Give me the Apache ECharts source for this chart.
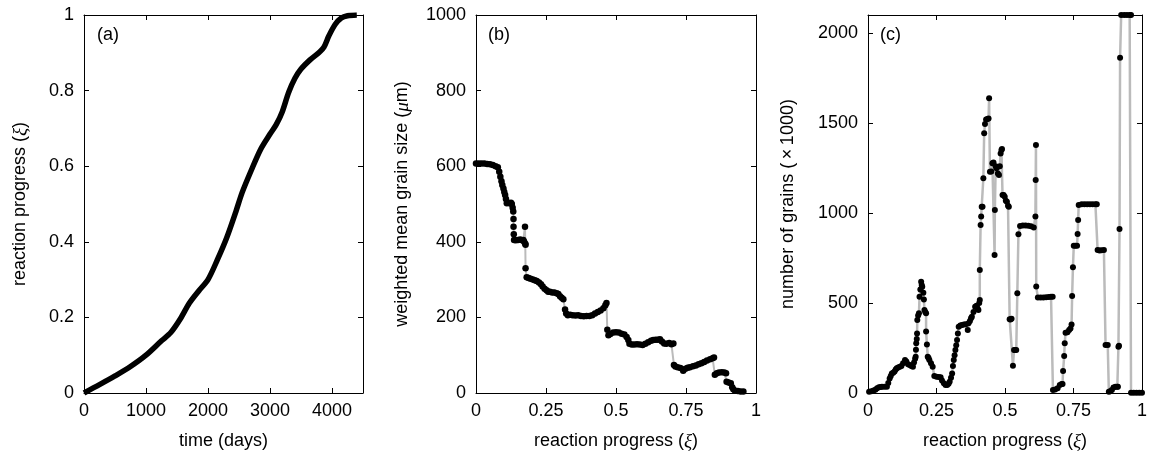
<!DOCTYPE html>
<html>
<head>
<meta charset="utf-8">
<script src="https://cdn.jsdelivr.net/npm/echarts@6/dist/echarts.min.js"></script>
<style>
  html, body { margin: 0; padding: 0; background: #fff; }
  #chart { width: 1150px; height: 458px; }
</style>
</head>
<body>
<div id="chart"></div>
<script>
// (a) reaction progress vs time
var timeDays = [0, 250, 500, 750, 1000, 1250, 1400, 1550, 1700, 1850, 2000, 2150, 2300, 2450, 2550, 2700, 2850, 3000, 3100, 3200, 3300, 3400, 3500, 3650, 3800, 3870, 3950, 4050, 4150, 4250, 4400];
var progressA = [0, 0.022, 0.045, 0.07, 0.1, 0.138, 0.16, 0.195, 0.238, 0.27, 0.3, 0.352, 0.41, 0.48, 0.53, 0.59, 0.645, 0.685, 0.71, 0.745, 0.795, 0.832, 0.857, 0.882, 0.902, 0.915, 0.945, 0.975, 0.992, 0.998, 1.0];

// (b) weighted mean grain size vs reaction progress
var xiB = [0, 0.01, 0.02, 0.03, 0.04, 0.05, 0.06, 0.07, 0.078, 0.083, 0.087, 0.091, 0.094, 0.098, 0.101, 0.104, 0.107, 0.11, 0.115, 0.12, 0.125, 0.128, 0.131, 0.133, 0.134, 0.134, 0.135, 0.136, 0.142, 0.15, 0.158, 0.165, 0.169, 0.172, 0.175, 0.176, 0.177, 0.177, 0.181, 0.188, 0.195, 0.203, 0.21, 0.217, 0.225, 0.232, 0.238, 0.245, 0.252, 0.258, 0.264, 0.272, 0.28, 0.288, 0.294, 0.3, 0.306, 0.312, 0.318, 0.322, 0.328, 0.336, 0.345, 0.355, 0.365, 0.375, 0.385, 0.395, 0.405, 0.415, 0.425, 0.435, 0.445, 0.455, 0.462, 0.466, 0.469, 0.473, 0.48, 0.49, 0.5, 0.51, 0.52, 0.53, 0.538, 0.544, 0.548, 0.556, 0.565, 0.575, 0.585, 0.595, 0.605, 0.615, 0.625, 0.633, 0.642, 0.65, 0.657, 0.664, 0.672, 0.68, 0.69, 0.698, 0.705, 0.707, 0.712, 0.72, 0.73, 0.74, 0.748, 0.756, 0.764, 0.775, 0.785, 0.795, 0.805, 0.815, 0.825, 0.836, 0.845, 0.85, 0.853, 0.86, 0.868, 0.878, 0.887, 0.893, 0.895, 0.902, 0.91, 0.915, 0.919, 0.925, 0.935, 0.945, 0.955];
var sizeB = [607, 607, 607, 607, 606, 605, 603, 600, 597, 585, 572, 560, 550, 541, 532, 524, 513, 502, 503, 502, 503, 500, 490, 480, 460, 440, 420, 405, 404, 405, 406, 404, 405, 400, 440, 395, 392, 330, 306, 304, 302, 300, 298, 296, 292, 288, 282, 276, 272, 268, 268, 266, 266, 264, 262, 256, 252, 248, 221, 210, 206, 207, 206, 205, 206, 204, 203, 204, 204, 206, 210, 214, 218, 224, 232, 238, 167, 153, 156, 160, 161, 160, 157, 155, 148, 140, 130, 128, 128, 129, 128, 127, 130, 134, 138, 140, 141, 141, 142, 136, 131, 130, 132, 129, 131, 74, 70, 68, 66, 59, 64, 67, 68, 71, 73, 76, 79, 82, 86, 89, 92, 94, 48, 52, 54, 55, 54, 52, 30, 28, 26, 15, 10, 6, 5, 4, 4];

// (c) number of grains vs reaction progress
var xiC = [0.004, 0.012, 0.02, 0.027, 0.033, 0.04, 0.046, 0.051, 0.06, 0.069, 0.074, 0.079, 0.083, 0.087, 0.092, 0.097, 0.101, 0.105, 0.11, 0.116, 0.122, 0.128, 0.135, 0.14, 0.146, 0.152, 0.158, 0.164, 0.168, 0.172, 0.174, 0.175, 0.176, 0.178, 0.179, 0.18, 0.183, 0.186, 0.188, 0.191, 0.194, 0.196, 0.198, 0.202, 0.204, 0.206, 0.209, 0.212, 0.212, 0.215, 0.218, 0.221, 0.224, 0.23, 0.236, 0.242, 0.25, 0.258, 0.265, 0.27, 0.277, 0.283, 0.289, 0.294, 0.298, 0.303, 0.307, 0.31, 0.313, 0.316, 0.319, 0.322, 0.325, 0.328, 0.331, 0.337, 0.343, 0.35, 0.357, 0.364, 0.367, 0.372, 0.376, 0.379, 0.385, 0.391, 0.396, 0.4, 0.403, 0.406, 0.408, 0.408, 0.411, 0.413, 0.415, 0.418, 0.421, 0.424, 0.427, 0.431, 0.436, 0.44, 0.442, 0.445, 0.45, 0.454, 0.458, 0.462, 0.463, 0.466, 0.469, 0.474, 0.478, 0.481, 0.484, 0.487, 0.489, 0.491, 0.495, 0.499, 0.503, 0.507, 0.511, 0.514, 0.517, 0.52, 0.524, 0.529, 0.533, 0.537, 0.541, 0.545, 0.549, 0.555, 0.565, 0.575, 0.585, 0.595, 0.605, 0.611, 0.612, 0.613, 0.614, 0.62, 0.63, 0.64, 0.65, 0.66, 0.668, 0.674, 0.675, 0.683, 0.692, 0.7, 0.707, 0.71, 0.712, 0.716, 0.718, 0.721, 0.728, 0.734, 0.739, 0.743, 0.745, 0.748, 0.751, 0.757, 0.763, 0.765, 0.767, 0.769, 0.78, 0.79, 0.8, 0.81, 0.82, 0.83, 0.835, 0.838, 0.845, 0.852, 0.861, 0.867, 0.875, 0.879, 0.884, 0.89, 0.896, 0.903, 0.91, 0.912, 0.914, 0.916, 0.918, 0.92, 0.924, 0.935, 0.945, 0.955, 0.96, 0.96, 0.97, 0.98, 0.99, 1.0];
var grainsC = [7, 10, 14, 18, 26, 32, 34, 35, 35, 35, 55, 81, 95, 109, 112, 120, 130, 137, 142, 146, 150, 165, 183, 175, 160, 156, 150, 146, 170, 190, 202, 240, 276, 300, 331, 405, 430, 443, 535, 575, 618, 600, 590, 557, 520, 461, 450, 443, 341, 270, 202, 195, 183, 165, 146, 94, 90, 89, 87, 70, 54, 45, 44, 52, 63, 85, 109, 150, 183, 210, 239, 265, 294, 330, 368, 375, 378, 380, 382, 350, 387, 400, 415, 424, 450, 479, 485, 470, 461, 500, 517, 683, 933, 980, 1035, 1035, 1193, 1443, 1494, 1520, 1522, 1525, 1637, 1229, 1230, 1276, 1280, 767, 1017, 1260, 1248, 1220, 1211, 1260, 1331, 1350, 1356, 1100, 1100, 1090, 1068, 1063, 1040, 1035, 410, 409, 412, 152, 239, 239, 239, 554, 882, 928, 930, 930, 929, 926, 920, 980, 1183, 1378, 591, 531, 531, 531, 532, 533, 535, 535, 17, 20, 26, 45, 50, 50, 122, 205, 276, 335, 338, 350, 359, 381, 539, 698, 818, 818, 818, 883, 961, 1044, 1048, 1048, 1048, 1048, 1048, 1048, 1048, 794, 792, 793, 794, 267, 267, 7, 10, 17, 30, 35, 35, 35, 257, 262, 911, 1863, 2100, 2100, 2100, 2100, 2100, 2, 2, 2, 2, 2];

function zip(xs, ys) {
  return xs.map(function (x, i) { return [x, ys[i]]; });
}

var chart = echarts.init(document.getElementById('chart'));

var FONT = 'Liberation Sans';
var FS = 18;
var rich = {
  i: { fontFamily: 'Liberation Serif', fontStyle: 'italic', fontSize: FS + 1, color: '#000' }
};

function plain(v) { return String(v); }

function xAx(grid, min, max, interval, ticks, name, mirror) {
  return {
    type: 'value', gridIndex: grid, min: min, max: max, interval: interval,
    position: mirror ? 'top' : 'bottom',
    name: mirror ? '' : name, nameLocation: 'middle', nameGap: 39,
    nameTextStyle: { fontFamily: FONT, fontSize: FS, color: '#000', rich: rich },
    axisLine: { show: true, onZero: false, lineStyle: { color: '#000', width: 1 } },
    axisTick: { show: true, inside: true, length: 5, customValues: ticks, lineStyle: { color: '#000' } },
    axisLabel: { show: !mirror, margin: 9, customValues: ticks, formatter: plain, fontFamily: FONT, fontSize: FS, color: '#000' },
    splitLine: { show: false }
  };
}

function yAx(grid, min, max, interval, ticks, name, gap, mirror) {
  return {
    type: 'value', gridIndex: grid, min: min, max: max, interval: interval,
    position: mirror ? 'right' : 'left',
    name: mirror ? '' : name, nameLocation: 'middle', nameGap: gap,
    nameTextStyle: { fontFamily: FONT, fontSize: FS, color: '#000', rich: rich },
    axisLine: { show: true, onZero: false, lineStyle: { color: '#000', width: 1 } },
    axisTick: { show: true, inside: true, length: 5, customValues: ticks, lineStyle: { color: '#000' } },
    axisLabel: { show: !mirror, margin: 10, customValues: ticks, formatter: plain, fontFamily: FONT, fontSize: FS, color: '#000' },
    splitLine: { show: false }
  };
}

var xiTicks = [0, 0.25, 0.5, 0.75, 1];
var xiName = 'reaction progress ({i|ξ})';

var option = {
  animation: false,
  backgroundColor: '#fff',
  grid: [
    { left: 84, top: 15, width: 279, height: 378 },
    { left: 476, top: 15, width: 280, height: 378 },
    { left: 868, top: 15, width: 280, height: 378 }
  ],
  xAxis: [
    xAx(0, 0, 4500, 1000, [0, 1000, 2000, 3000, 4000], 'time (days)', false),
    xAx(0, 0, 4500, 1000, [0, 1000, 2000, 3000, 4000], '', true),
    xAx(1, 0, 1, 0.25, xiTicks, xiName, false),
    xAx(1, 0, 1, 0.25, xiTicks, '', true),
    xAx(2, 0, 1, 0.25, xiTicks, xiName, false),
    xAx(2, 0, 1, 0.25, xiTicks, '', true)
  ],
  yAxis: [
    yAx(0, 0, 1, 0.2, [0, 0.2, 0.4, 0.6, 0.8, 1], 'reaction progress ({i|ξ})', 54, false),
    yAx(0, 0, 1, 0.2, [0, 0.2, 0.4, 0.6, 0.8, 1], '', 0, true),
    yAx(1, 0, 1000, 200, [0, 200, 400, 600, 800, 1000], 'weighted mean grain size ({i|μ}m)', 64, false),
    yAx(1, 0, 1000, 200, [0, 200, 400, 600, 800, 1000], '', 0, true),
    yAx(2, 0, 2100, 500, [0, 500, 1000, 1500, 2000], 'number of grains (\u2009×\u20091000)', 71, false),
    yAx(2, 0, 2100, 500, [0, 500, 1000, 1500, 2000], '', 0, true)
  ],
  graphic: [
    { type: 'text', left: 97, top: 26, style: { text: '(a)', font: FS + 'px ' + FONT, fill: '#000' } },
    { type: 'text', left: 488, top: 26, style: { text: '(b)', font: FS + 'px ' + FONT, fill: '#000' } },
    { type: 'text', left: 880, top: 26, style: { text: '(c)', font: FS + 'px ' + FONT, fill: '#000' } }
  ],
  series: [
    {
      type: 'line', xAxisIndex: 0, yAxisIndex: 0,
      data: zip(timeDays, progressA),
      smooth: 0.3, showSymbol: false,
      lineStyle: { color: '#000', width: 5.5 }
    },
    {
      type: 'line', xAxisIndex: 2, yAxisIndex: 2,
      data: zip(xiB, sizeB),
      symbol: 'circle', symbolSize: 6.5, showAllSymbol: true,
      itemStyle: { color: '#000' },
      lineStyle: { color: '#bbb', width: 2 }
    },
    {
      type: 'line', xAxisIndex: 4, yAxisIndex: 4,
      data: zip(xiC, grainsC),
      symbol: 'circle', symbolSize: 6, showAllSymbol: true,
      itemStyle: { color: '#000' },
      lineStyle: { color: '#bbb', width: 2.5 }
    }
  ]
};

chart.setOption(option);
</script>
</body>
</html>
